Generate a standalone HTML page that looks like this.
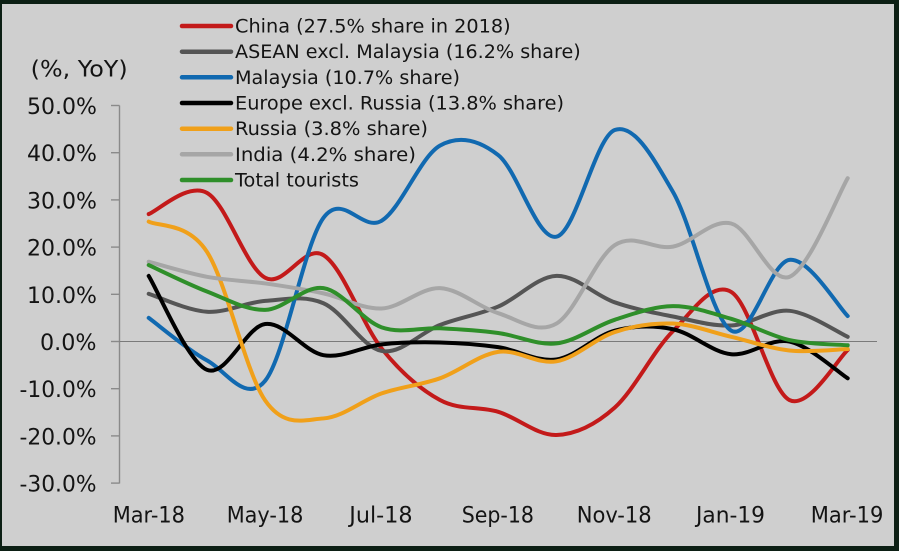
<!DOCTYPE html>
<html>
<head>
<meta charset="utf-8">
<style>
  html, body { margin: 0; padding: 0; background: #0c1f14; }
  svg { display: block; }
  text { font-family: "DejaVu Sans", "Liberation Sans", sans-serif; fill: #141414; }
</style>
</head>
<body>
<svg id="chart" width="899" height="551" viewBox="0 0 899 551" xmlns="http://www.w3.org/2000/svg">
  <rect x="0" y="0" width="899" height="551" fill="#0c1f14"/>
  <rect x="2" y="4" width="892" height="542" fill="#cfcfcf"/>

  <!-- axis -->
  <line x1="119.5" y1="105.5" x2="119.5" y2="483.5" stroke="#8a8a8a" stroke-width="1.4"/>
  <g stroke="#8a8a8a" stroke-width="1.4">
    <line x1="111" y1="105.5" x2="119.5" y2="105.5"/>
    <line x1="111" y1="152.7" x2="119.5" y2="152.7"/>
    <line x1="111" y1="199.9" x2="119.5" y2="199.9"/>
    <line x1="111" y1="247.1" x2="119.5" y2="247.1"/>
    <line x1="111" y1="294.3" x2="119.5" y2="294.3"/>
    <line x1="111" y1="341.5" x2="119.5" y2="341.5"/>
    <line x1="111" y1="388.7" x2="119.5" y2="388.7"/>
    <line x1="111" y1="435.9" x2="119.5" y2="435.9"/>
    <line x1="111" y1="483.1" x2="119.5" y2="483.1"/>
  </g>
  <line x1="119.5" y1="341.5" x2="877" y2="341.5" stroke="#7a7a7a" stroke-width="1.1"/>

  <!-- y labels -->
  <g font-size="22">
    <text x="30.7" y="76.5" textLength="97" lengthAdjust="spacingAndGlyphs">(%, YoY)</text>
    <text x="27" y="114" textLength="70" lengthAdjust="spacingAndGlyphs">50.0%</text>
    <text x="27" y="161.2" textLength="70" lengthAdjust="spacingAndGlyphs">40.0%</text>
    <text x="27" y="208.4" textLength="70" lengthAdjust="spacingAndGlyphs">30.0%</text>
    <text x="27" y="255.6" textLength="70" lengthAdjust="spacingAndGlyphs">20.0%</text>
    <text x="27" y="302.8" textLength="70" lengthAdjust="spacingAndGlyphs">10.0%</text>
    <text x="40" y="350" textLength="56.5" lengthAdjust="spacingAndGlyphs">0.0%</text>
    <text x="19.5" y="397.2" textLength="77" lengthAdjust="spacingAndGlyphs">-10.0%</text>
    <text x="19.5" y="444.4" textLength="77" lengthAdjust="spacingAndGlyphs">-20.0%</text>
    <text x="19.5" y="491.6" textLength="77" lengthAdjust="spacingAndGlyphs">-30.0%</text>
  </g>

  <!-- x labels -->
  <g font-size="22">
    <text x="112.7" y="522.5" textLength="72.3" lengthAdjust="spacingAndGlyphs">Mar-18</text>
    <text x="226.7" y="522.5" textLength="76.7" lengthAdjust="spacingAndGlyphs">May-18</text>
    <text x="349.3" y="522.5" textLength="63.3" lengthAdjust="spacingAndGlyphs">Jul-18</text>
    <text x="461.7" y="522.5" textLength="72.3" lengthAdjust="spacingAndGlyphs">Sep-18</text>
    <text x="576.7" y="522.5" textLength="75" lengthAdjust="spacingAndGlyphs">Nov-18</text>
    <text x="696" y="522.5" textLength="69" lengthAdjust="spacingAndGlyphs">Jan-19</text>
    <text x="810.7" y="522.5" textLength="72.7" lengthAdjust="spacingAndGlyphs">Mar-19</text>
  </g>

  <!-- legend -->
  <g stroke-width="4.5" stroke-linecap="round">
    <line x1="182" y1="26" x2="231" y2="26" stroke="#c31a1a"/>
    <line x1="182" y1="51.7" x2="231" y2="51.7" stroke="#555555"/>
    <line x1="182" y1="77.3" x2="231" y2="77.3" stroke="#1169b0"/>
    <line x1="182" y1="103" x2="231" y2="103" stroke="#000000"/>
    <line x1="182" y1="128.7" x2="231" y2="128.7" stroke="#f0a01a"/>
    <line x1="182" y1="154.3" x2="231" y2="154.3" stroke="#a6a6a6"/>
    <line x1="182" y1="180" x2="231" y2="180" stroke="#2f8f2a"/>
  </g>
  <g font-size="18.5">
    <text x="235" y="32.5" textLength="275.7" lengthAdjust="spacingAndGlyphs">China (27.5% share in 2018)</text>
    <text x="235" y="58.2" textLength="345.7" lengthAdjust="spacingAndGlyphs">ASEAN excl. Malaysia (16.2% share)</text>
    <text x="235" y="83.8" textLength="225" lengthAdjust="spacingAndGlyphs">Malaysia (10.7% share)</text>
    <text x="235" y="109.5" textLength="329" lengthAdjust="spacingAndGlyphs">Europe excl. Russia (13.8% share)</text>
    <text x="235" y="135.2" textLength="193" lengthAdjust="spacingAndGlyphs">Russia (3.8% share)</text>
    <text x="235" y="160.8" textLength="181" lengthAdjust="spacingAndGlyphs">India (4.2% share)</text>
    <text x="235" y="186.5" textLength="124" lengthAdjust="spacingAndGlyphs">Total tourists</text>
  </g>

  <g id="series" fill="none" stroke-width="4" stroke-linecap="round" stroke-linejoin="round"></g>
</svg>
<script>
(function(){
  var xs = function(i){ return 148.7 + 58.25*i; };
  var ys = function(v){ return 341.5 - 4.72*v; };
  var series = [
    ["#c31a1a", [27.0, 31.5, 13.5, 18.3, -1.5, -12.4, -14.9, -19.8, -14.0, 2.2, 10.5, -12.4, -1.8]],
    ["#555555", [10.1, 6.3, 8.6, 8.1, -2.0, 3.5, 7.4, 13.9, 8.3, 5.3, 3.4, 6.5, 1.0]],
    ["#1169b0", [5.0, -4.0, -8.3, 26.2, 25.6, 41.5, 39.5, 22.2, 44.8, 31.7, 2.3, 17.3, 5.4]],
    ["#000000", [13.9, -6.0, 3.7, -2.9, -0.6, -0.2, -1.2, -3.8, 2.3, 2.6, -2.7, 0.0, -7.8]],
    ["#f0a01a", [25.4, 19.0, -12.5, -16.3, -11.0, -7.8, -2.2, -4.2, 2.0, 3.8, 1.0, -1.9, -1.6]],
    ["#a6a6a6", [16.9, 13.7, 12.3, 10.2, 7.0, 11.3, 6.0, 3.8, 20.4, 20.1, 25.0, 13.7, 34.6]],
    ["#2f8f2a", [16.2, 10.6, 6.7, 11.3, 3.0, 2.8, 1.8, -0.4, 4.6, 7.5, 4.8, 0.3, -0.8]]
  ];
  var g = document.getElementById("series");
  var ns = "http://www.w3.org/2000/svg";
  series.forEach(function(s){
    var vals = s[1], n = vals.length;
    var p = vals.map(function(v,i){ return [xs(i), ys(v)]; });
    var d = "M" + p[0][0].toFixed(2) + "," + p[0][1].toFixed(2);
    for (var i = 0; i < n-1; i++) {
      var p0 = p[Math.max(i-1,0)], p1 = p[i], p2 = p[i+1], p3 = p[Math.min(i+2,n-1)];
      var c1x = p1[0] + (p2[0]-p0[0])/6, c1y = p1[1] + (p2[1]-p0[1])/6;
      var c2x = p2[0] - (p3[0]-p1[0])/6, c2y = p2[1] - (p3[1]-p1[1])/6;
      d += " C" + c1x.toFixed(2) + "," + c1y.toFixed(2) + " " + c2x.toFixed(2) + "," + c2y.toFixed(2) + " " + p2[0].toFixed(2) + "," + p2[1].toFixed(2);
    }
    var path = document.createElementNS(ns, "path");
    path.setAttribute("d", d);
    path.setAttribute("stroke", s[0]);
    g.appendChild(path);
  });
})();
</script>
</body>
</html>
